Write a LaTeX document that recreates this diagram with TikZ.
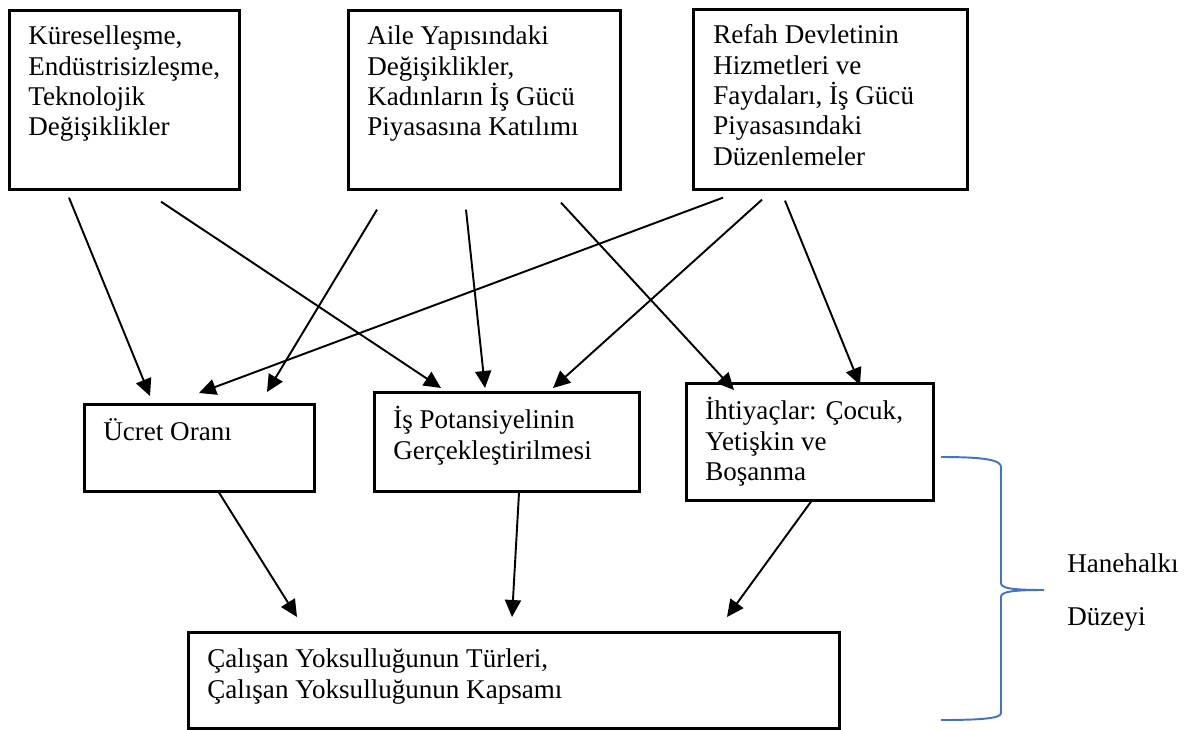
\documentclass[tikz,border=0pt]{standalone}
\usepackage{fontspec}
\setmainfont{Liberation Serif}
\usetikzlibrary{positioning}
\usetikzlibrary{calc}
\usetikzlibrary{arrows.meta}
\definecolor{parantez}{HTML}{4472C4}

\begin{document}
\begin{tikzpicture}[
    KUTU/.style={rectangle, draw=black, line width=1.5pt, anchor=north west, inner sep=0pt},
    YAZI/.style={align=left, inner sep=0pt, font=\fontsize{15.4}{17.3}\selectfont},
    OK/.style={-{Triangle[length=3.4mm, width=3.2mm]}, line width=1.1pt},
    ]
        \useasboundingbox (0,0) rectangle (23.68,-14.58);

        % ust kutular
        \node[KUTU, minimum width=4.60cm, minimum height=3.58cm] (kure) at (0.16,-0.18) {};
        \node[KUTU, minimum width=5.44cm, minimum height=3.58cm] (aile) at (6.94,-0.18) {};
        \node[KUTU, minimum width=5.48cm, minimum height=3.60cm] (refah) at (13.84,-0.16) {};
        \node[YAZI] (kure-y) [below right=0.28cm and 0.40cm of kure.north west] {\strut Küreselleşme,\\Endüstrisizleşme,\\Teknolojik\\Değişiklikler};
        \node[YAZI] (aile-y) [below right=0.28cm and 0.40cm of aile.north west] {\strut Aile Yapısındaki\\Değişiklikler,\\Kadınların İş Gücü\\Piyasasına Katılımı};
        \node[YAZI] (refah-y) [below right=0.28cm and 0.42cm of refah.north west] {\strut Refah Devletinin\\Hizmetleri ve\\Faydaları, İş Gücü\\Piyasasındaki\\Düzenlemeler};

        % orta kutular
        \node[KUTU, minimum width=4.60cm, minimum height=1.74cm] (ucret) at (1.66,-8.06) {};
        \node[KUTU, minimum width=5.30cm, minimum height=1.98cm] (potansiyel) at (7.46,-7.82) {};
        \node[KUTU, minimum width=4.94cm, minimum height=2.34cm] (ihtiyac) at (13.70,-7.64) {};
        \node[YAZI] (ucret-y) [below right=0.30cm and 0.40cm of ucret.north west] {\strut Ücret Oranı};
        \node[YAZI] (potansiyel-y) [below right=0.30cm and 0.40cm of potansiyel.north west] {\strut İş Potansiyelinin\\Gerçekleştirilmesi};
        \node[YAZI] (ihtiyac-y) [below right=0.30cm and 0.40cm of ihtiyac.north west] {\strut İhtiyaçlar: Çocuk,\\Yetişkin ve\\Boşanma};

        % alt kutu
        \node[KUTU, minimum width=13.02cm, minimum height=1.92cm] (yoksul) at (3.74,-12.62) {};
        \node[YAZI] (yoksul-y) [below right=0.30cm and 0.40cm of yoksul.north west] {\strut Çalışan Yoksulluğunun Türleri,\\Çalışan Yoksulluğunun Kapsamı};

        % oklar
        \draw[OK] ([shift={(1.22,-0.14)}]kure.south west) -- ([shift={(1.34,0.14)}]ucret.north west);
        \draw[OK] ([shift={(3.06,-0.22)}]kure.south west) -- ([shift={(1.36,0.06)}]potansiyel.north west);
        \draw[OK] ([shift={(0.60,-0.38)}]aile.south west) -- ([shift={(3.68,0.22)}]ucret.north west);
        \draw[OK] ([shift={(2.38,-0.38)}]aile.south west) -- ([shift={(2.24,0.06)}]potansiyel.north west);
        \draw[OK] ([shift={(4.28,-0.24)}]aile.south west) -- ([shift={(0.98,-0.16)}]ihtiyac.north west);
        \draw[OK] ([shift={(0.62,-0.14)}]refah.south west) -- ([shift={(2.32,0.20)}]ucret.north west);
        \draw[OK] ([shift={(1.40,-0.18)}]refah.south west) -- ([shift={(3.60,0.06)}]potansiyel.north west);
        \draw[OK] ([shift={(1.86,-0.20)}]refah.south west) -- ([shift={(3.50,-0.06)}]ihtiyac.north west);
        \draw[OK] ([shift={(2.72,0)}]ucret.south west) -- ([shift={(2.20,0.28)}]yoksul.north west);
        \draw[OK] ([shift={(2.92,0)}]potansiyel.south west) -- ([shift={(6.50,0.28)}]yoksul.north west);
        \draw[OK] ([shift={(2.52,0)}]ihtiyac.south west) -- ([shift={(10.80,0.28)}]yoksul.north west);

        % parantez
        \draw[parantez, line width=1.1pt] (18.82,-9.14) .. controls (19.70,-9.14) and (20.02,-9.20) .. (20.02,-9.34)
            -- (20.02,-11.66) .. controls (20.02,-11.76) and (20.20,-11.80) .. (20.88,-11.80)
            .. controls (20.20,-11.80) and (20.02,-11.84) .. (20.02,-11.94)
            -- (20.02,-14.26) .. controls (20.02,-14.36) and (19.70,-14.40) .. (18.82,-14.40);
        \node[YAZI] (hane) at (21.34,-11.02) [anchor=north west] {\strut Hanehalkı\\[0.45cm]Düzeyi};
    \end{tikzpicture}
\end{document}
